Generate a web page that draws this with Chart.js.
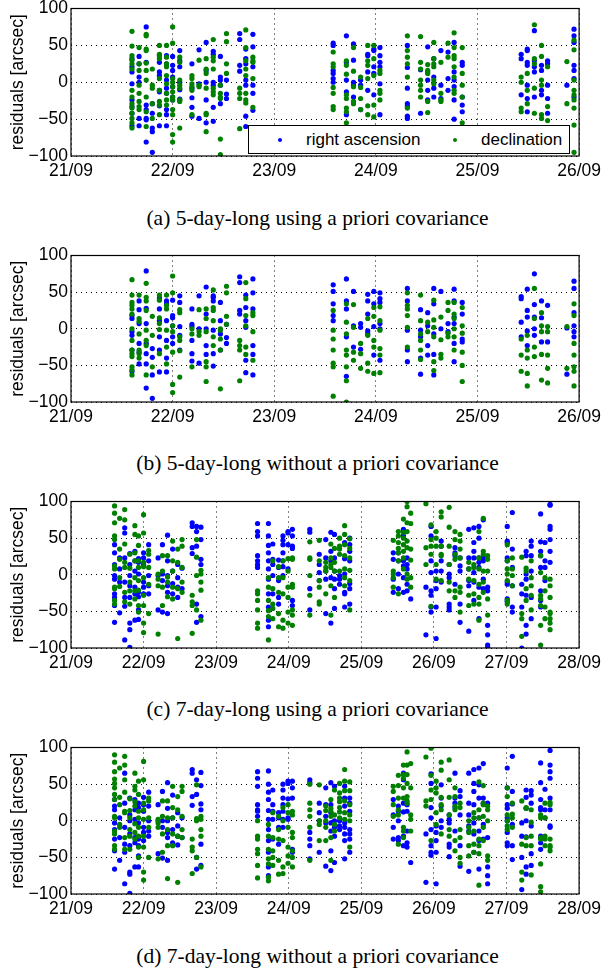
<!DOCTYPE html>
<html><head><meta charset="utf-8">
<script src="https://cdn.jsdelivr.net/npm/chart.js@4.4.0/dist/chart.umd.min.js"></script>
<style>
body{margin:0;background:#fff;width:606px;height:969px;overflow:hidden;position:relative}
.panel{position:absolute;left:0;width:606px}
.cap{position:absolute;left:0;width:635px;text-align:center;font:21.5px "Liberation Serif","Times New Roman",serif;line-height:24px;color:#000;white-space:nowrap}
.legend{position:absolute;left:248px;top:125px;width:322px;height:29px;box-sizing:border-box;border:1px solid #000;background:#fff;font:17px "Liberation Sans",Arial,sans-serif;color:#000}
.legend span{position:absolute;top:3px;line-height:22px}
.legend i{position:absolute;top:12px;width:4px;height:4px;border-radius:50%}
</style></head><body>
<div class="panel" style="top:-5px"><canvas id="c1" width="606" height="195"></canvas></div>
<div class="legend"><i style="left:29px;background:#0000ff"></i><span style="left:57px">right ascension</span><i style="left:204px;background:#008000"></i><span style="left:232px">declination</span></div>
<div class="cap" style="top:206px">(a) 5-day-long using a priori covariance</div>
<div class="panel" style="top:242px"><canvas id="c2" width="606" height="194"></canvas></div>
<div class="cap" style="top:451px">(b) 5-day-long without a priori covariance</div>
<div class="panel" style="top:488px"><canvas id="c3" width="606" height="194"></canvas></div>
<div class="cap" style="top:697px">(c) 7-day-long using a priori covariance</div>
<div class="panel" style="top:734px"><canvas id="c4" width="606" height="194"></canvas></div>
<div class="cap" style="top:944px">(d) 7-day-long without a priori covariance</div>
<script>
// tick labels
const days5 = ['21/09','22/09','23/09','24/09','25/09','26/09'];
const days7 = ['21/09','22/09','23/09','24/09','25/09','26/09','27/09','28/09'];

// observation times (days after 21/09 00:00), one per column of points
const times5 = [0.60,0.67,0.74,0.80,0.87,0.94,1.00,1.07,1.19,1.26,1.33,1.40,1.47,1.53,1.66,1.72,1.79,
  2.58,2.71,2.78,2.85,2.92,2.98,3.04,3.31,3.44,3.51,3.57,3.64,3.71,3.77,3.85,
  4.43,4.49,4.56,4.63,4.69,4.88,4.95];
const times7 = [0.60,0.67,0.74,0.81,0.88,0.93,1.00,1.07,1.20,1.26,1.33,1.40,1.47,1.53,1.67,1.73,1.79,
  2.57,2.72,2.78,2.86,2.92,2.99,3.05,3.29,3.42,3.51,3.58,3.63,3.70,3.77,3.84,
  4.44,4.51,4.58,4.63,4.68,4.89,4.96,5.03,5.10,5.21,5.29,5.36,5.48,5.55,5.62,5.68,5.74,
  6.01,6.08,6.21,6.27,6.34,6.47,6.53,6.60];

// residuals [arcsec] per column
const aRA = [[32,21,14,-2,-24,-33,-42,-59],[35,25,7,0,-49,-59],[75,27,-31,-37,-49,-51,-81],[-29,-42,-62,-67,-95],
  [27,14,9,-11,-13,-32,-59],[36,25,3,-8,-15,-37,-44,-59],[35,23,16,7,-6,-20,-24],[43,29,21,0,-10,-23],
  [25,-8,-21,-34,-46],[44,-2,-49],[54,16,0,-24,-55],[42,38,0,-4,-34,-53],[35,7,3,-4,-29],[3,-16,-22],
  [66,58,23,15],[45,32,25,3,-4,-46,-60],[65,48,21,-4,-15,-38],
  [53,50,16,12,5,0],[63,27,3,-13,-44],[52,30,0,-4,-20],[3,-4,-37],[38,36,14,-11],[45,43,21,12,-17],[47,36,27,21,-2,-44],
  [50,20,-8,-29,-33,-46,-49],[17,-42],[48,3,-11,-24],[32,7,-8,-20],[43,-4,-22],[41,5,-11],[54,14,3,-6,-24,-50],[27,23,-20,-31,-40],
  [38,32,-17],[45,43,27,23,-4,-22,-40],[70,29,21,14,-20],[23,16,-11,-17],[29,25,-4,-22,-42],[-4,-69],[72,63,54,23,16,5,-20]];
const aDec = [[69,49,36,30,25,18,-11,-20,-29,-35,-42,-49,-55,-62],[47,25,16,-4,-15,-26,-33,-37],[65,63,45,43,26,16,3,-20,-40,-60],
  [18,-4,-8,-29,-49],[50,38,36,32,5,-11,-26,-31,-44],[50,34,25,21,9,-2,-15,-24,-31],[75,53,5,0,-6,-13,-20,-24,-37,-44,-71,-81],
  [34,27,3,-4,-8,-24,-26,-62],[9,5,-2,-6,-11,-44],[30,-4,-6],[32,18,12,-8,-42,-44,-67],[58,34,29,18,-8,-13,-17],
  [-4,-15,-20,-22,-77,-98],[66,55,25,12],[-8,-15,-22,-63],[71,47,29,18,9,-15,-24,-28],[34,29,27,5,-34],
  [41,25,21,-7,-15,-33,-37],[29,23,11,-17,-22,-35,-40,-55],[47,15,-6,-26,-29],[7,-7,-22,-37],[50,29,23,5,-32,-44],[50,32,9,-31,-47],[16,12,-11,-15,-24],
  [63,43,34,25,7,-35],[62,27,18,3,-4,-11,-20],[24,16,14,12,-26,-41],[54,32,25,21,3,-2],[27,-15,-24,-26],[53,34],[67,47,36,32,21,7,-11,-15],[47,12,-4,-20,-55],
  [7,0,-35,-40],[12,-11,-29],[78,32,25,-8,-42],[50,35,3,-4,-44,-49],[21,-33,-52],[28,-29],[57,44,3,-11,-17,-24,-35,-58,-95]];

const bRA = [[18,14,-4,-9,-29,-58],[38,26,7,-20,-32,-48],[79,28,7,-20,-34,-48,-81],[-27,-39,-63,-95],[42,27,11,-11,-29,-59],
  [38,34,11,-16,-40,-59],[39,18,15,4,-11,-20],[45,36,3,-9,-29],[27,6,3,-16,-34,-44],[45,0,-47],[57,20,0,-23,-35],
  [45,43,38,-2,-34,-51],[36,11,-7,-29],[6,-12,-20],[71,63,25,20],[46,29,11,2,-43,-60],[68,49,27,-23,-35,-63],
  [60,51,34,18,11],[68,38,27,-11,-65],[51,4,-25],[7,2,-28],[47,38,20,-3,-7],[51,34,3,-36],[49,41,36,7,0,-43],
  [55,38,-2,-29,-45],[26,-2,-11,-40,-62],[22,4,-23,-36],[55,34,-7,-35,-63],[51,0],[7,-4],[54,38,16,7,-20,-45],[36,20,-14,-18],
  [44,41,9,-11],[54,25,16,-3,-23],[75,33,16,0,-9],[38,15,-18],[32,-18],[1,-62],[65,55,22,4,-4,-11]];
const bDec = [[67,46,36,32,27,20,0,-16,-29,-34,-38,-52,-56,-63],[46,14,10,-7,-29,-34,-40],[62,43,38,25,-2,-16,-23,-63],[17,-9,-52],
  [46,39,15,7,-1,-34],[46,32,27,-2,-25,-48],[72,49,4,-4,-32,-76,-87],[26,22,-11,-16,-30,-66],[0,-7,-52],[26,-4,-9],
  [27,14,-4,-45,-52,-72],[53,29,25,11,-11,-23],[0,-2,-14,-29,-82],[58,49,17,6],[-16,-23,-29,-71],[63,41,18,4,-25,-35],[22,18,-4,-43],
  [25,-2,-14,-29,-47,-52,-92],[34,9,-7,-29,-36,-52,-71,-100],[33,2,-32,-43],[-20,-34,-54],[14,-9,-47,-58],[29,17,-16,-25,-61],[30,11,-2,-27,-36,-60],
  [49,32,27,18,2,-25],[46,11,-7,-16,-29,-42],[9,-4],[39,12,2,-11,-45,-57],[16,-15,-35,-40],[36,25,-6,-11],[36,20,14,0,-11,-29],[29,4,-6,-32,-50,-72],
  [-14,-36,-58],[-9,-29,-40,-61,-78],[55,14,-25,-38],[22,4,-4,-35,-70],[3,-4,-36,-54,-74],[3,-54],[34,18,-20,-36,-52,-58,-78]];

const cRA = [[41,30,14,-1,-6,-26,-31,-42,-65],[23,8,-10,-52],[64,57,23,-10,-31,-43,-89],[29,14,-1,-15,-31,-66,-75,-99],
  [32,19,5,-17,-26,-62],[22,17,1,-24,-30,-48,-61],[30,23,14,-10,-17,-26],[41,19,-1,-15,-26],[23,-1,-48],[41,1,-8,-51],
  [54,19,-1,-15,-24,-53],[35,5,-12,-26],[14,-4,-17,-31],[9,-19],[71,66,37,29],[66,59,39,-40,-65],[65,48,21,14,-57],
  [70,59,53,26,19,14,10],[70,53,40,30,19,8,-6,-26,-44,-62,-71],[42,21,14,-1,-26],[20,10,-8,-31,-40],[53,47,41,30,19,11,-1],[59,57,41,8],[62,53,39,36,-35,-42],
  [62,58,-19,-48],[28,14,3,-8],[48,23,5,-6,-53],[58,32,19,-4,-66],[55,23,5,-6,-19,-46],[-1,-6,-13],[44,22,1,-24,-26,-44],[50,41,32,19,-12,-19,-40],
  [30,21,-6,-24],[30,19,1,-19],[62,53,19,12,-4,-24],[23,14,8,-13,-22],[-33],
  [-17,-82],[66,53,19,3,-22,-28,-44,-51],[5,-8,-19,-44,-87],[46,39,19,5,-10],[14,1,-4,-40,-44,-48],[37,30,26,-13],[23,12,5,-40,-65],
  [62,23,8,-8,-15,-77],[64,44,32,23,3,-10,-35],[66,50,23,17,10,-17,-60],[75,23,19,-6,-19],[-17,-22,-69,-82,-96,-99],
  [66,46,44,23,19,-10,-13,-33,-37],[85,35,10,-15,-44,-51],[-13,-26,-44,-100],[32,26,1,-6,-28,-69,-81],[46,39,26,5,-31,-60],
  [83,45,32,26,10,-22,-35,-44],[44,19,10,-8],[96,95,66,62,48,32,17]];
const cDec = [[94,84,71,53,48,12,8,-17,-19,-35,-40],[77,35,21,-4,-16],[89,75,42,17,10,-24,-37],[28,9,-10,-22,-40],
  [67,55,30,19,-4,-22,-33],[53,40,19,10,-8,-21,-42,-51],[82,57,17,11,-4,-28,-42,-66,-79],[33,28,10,-13,-53],[1,-6,-15,-81],
  [26,5,-17,-42],[26,-3,-10,-30],[46,19,5,-17,-33],[35,17,-19,-87],[48,39,10,-10,-24],[-28,-37,-42,-80],[48,24,-1,-48],[6,1,-10,-21,-62],
  [-22,-26,-35,-48,-66,-73],[-4,-17,-35,-49,-57,-89],[19,-19,-40,-46,-60],[11,-4,-24,-53,-71],[19,-4,-26,-62,-73],[22,5,-17,-31,-51,-66],[23,21,-13,-17,-48,-55,-69],
  [45,23,21,-1,-28,-55],[47,19,-8,-17,-37,-40],[17,10,5,-26],[42,23,14,10,-15,-55],[36,17,5,-31],[50,39,35,28,5],[67,55,41,26,8,-4,-15],[49,36,23,6,-8,-48],
  [47,5,1,-4,-17],[59,53,44,36,30,19,-26],[76,58,50,41,32,23,8],[100,93,71,59,46,37,1,-6],[84,70,35,20,-4,-17],
  [97,37,14],[68,48,39,28,-43],[59,50,39,14,-6],[86,79,39,28,26,-8],[92,65,39,14,-10,-22],[59,48,28,21,-22,-31],[55,46,35,23,-17,-24,-51],
  [17,8,-6,-28,-42],[14,10,-8,-26,-40],[59,23,8,-13,-31,-40,-62],[77,32,28,5,-10,-24],[26,21,5,-33,-55],
  [41,19,8,1,-8,-35,-40],[23,8,-1,-15],[24,-53,-60,-84],[9,5,-19,-35],[19,-4,-15,-28,-48],
  [26,3,-28,-33,-42,-69,-96],[-4,-22,-44,-60],[-6,-15,-31,-51,-53,-60,-66,-75]];

const dRA = [[29,20,15,-3,-12,-25,-41,-66],[4,-23,-54],[65,24,-9,-32,-43,-86],[31,8,0,-18,-34,-70,-73,-99],
  [29,15,2,-23,-30,-63],[24,18,-3,-25,-34,-48,-63],[32,22,13,-9,-16,-27],[39,20,0,-14,-21],[22,0,-45],[40,0,-9,-51],
  [52,17,0,-16,-23,-54],[35,4,-12,-30],[11,-7,-21,-33],[4,-23],[70,65,33,21],[56,36,-50,-66],[66,48,23,15,-32,-61],
  [67,58,47,22,15,13,6],[68,50,39,29,14,2,-12,-27,-43,-63,-75],[42,22,13,2,-25],[11,4,-9,-32],[50,42,31,22,13,2,-9],[54,51,30,4,2],[54,45,31,-39,-43],
  [56,52,-16,-25,-34,-52],[24,11,0,-43],[45,22,6,-3,-62],[52,22,11,-3,-14,-41,-68],[47,0,-9,-21,-57],[0,-7,-12],[47,31,20,-3,-9,-18,-27,-52],[31,24,13,-12,-18,-25,-43],
  [29,8,-9,-25],[20,13,0,-23,-27],[65,56,24,12,-21,-34],[22,13,-14,-30,-36],[-57],
  [-18,-84],[64,51,18,4,-12,-34,-43,-47],[-7,-16,-27,-43,-86],[49,31,20,0,-9],[8,2,-3,-32,-36,-49],[65,31,24,18,-14],[41,33,8,-34,-62],
  [65,24,8,-7,-14,-69],[70,51,40,22,-3,-18,-43],[72,49,31,4,-14,-27,-66],[78,31,24,-5,-25],[24,-23,-63,-75,-86],
  [72,45,22,17,4,0,-16,-30,-34],[88,40,23,-5,-34,-53],[-3,-21,-50,-94],[42,32,17,0,-22,-63,-73],[41,35,24,-7,-45,-61],
  [79,52,29,18,15,-21,-30,-39],[43,15,4],[96,76,67,58,31,15,-7,-9]];
const dDec = [[90,80,67,57,51,45,36,29,6,4,-14,-18,-34,-39],[72,32,22,-5,-9],[88,76,56,39,13,11,-23,-39],[30,14,4,-12,-21,-39],
  [65,47,42,26,20,-4,-16,-25],[54,36,13,4,-9,-21,-36,-50],[81,56,24,15,2,-21,-36,-70,-81],[31,27,4,-9,-50],[2,-3,-9,-52],
  [27,6,-18,-43],[27,4,-12,-34,-79],[47,18,4,-18,-34],[33,15,-21,-84],[47,40,6,-12,-23],[-25,-36,-41,-72],[49,3,0,-50],[6,2,-12,-21,-63],
  [0,-21,-25,-39,-45,-61,-78],[-5,-21,-39,-52,-59,-77,-82],[11,-23,-41,-50,-61],[6,-12,-25,-54,-73],[18,0,-27,-63,-72],[22,11,-9,-36,-48,-58],[13,8,-16,-23,-41,-50,-63],
  [50,24,15,6,-9,-54],[49,0,-5,-27],[20,14,0,-9,-27],[29,17,13,6,-23,-54],[42,8,-5,-14],[51,38,31,26,18,12,4],[70,54,41,27,11,2],[53,41,22,8,0,-36],
  [47,40,22,6],[62,48,31,15,8,-32],[76,63,58,45,31,-9,-14,-23],[94,76,63,51,33,27,24],[78,45,8,2,-14],
  [87,27,20],[99,62,42,29,-27],[54,45,38,11,-5],[80,69,32,22,15,-18],[83,56,32,8,-12,-21],[45,33,20,15,-27,-41],[24,18,-12,-23,-50,-58],
  [0,-9,-16,-34,-48],[11,4,-14,-32,-43],[53,15,4,-25,-34,-45,-88],[48,24,22,6,-9,-27],[20,15,0,-48,-54],
  [45,33,8,0,-7,-12],[24,9,4,-9],[27,-32,-70,-81],[18,17,-23,-34],[15,-2,-21,-34,-74],
  [8,4,-23,-25,-59,-90,-97],[24,4,-21,-25,-34],[25,22,-25,-34,-36,-41]];

Chart.defaults.font.family = '"Liberation Sans", Arial, Helvetica, sans-serif';
Chart.defaults.font.size = 17.5;
Chart.defaults.color = '#000';

function toPoints(times, cols) {
  return times.flatMap((t, i) => cols[i].map(v => ({x: t, y: v})));
}

// axes box round the plot area
const boxPlugin = {
  id: 'box',
  afterDraw(chart) {
    const {ctx, chartArea: a} = chart;
    ctx.save();
    ctx.strokeStyle = '#000';
    ctx.lineWidth = 1.2;
    ctx.strokeRect(a.left, a.top, a.right - a.left, a.bottom - a.top);
    ctx.restore();
  }
};

function makeChart(id, times, ra, dec, labels) {
  const ctx = document.getElementById(id).getContext('2d');
  return new Chart(ctx, {
    type: 'scatter',
    data: {
      datasets: [
        {label: 'right ascension', data: toPoints(times, ra), backgroundColor: '#0000ff', borderWidth: 0, pointRadius: 2.6, order: 1},
        {label: 'declination', data: toPoints(times, dec), backgroundColor: '#008000', borderWidth: 0, pointRadius: 2.6, order: 0}
      ]
    },
    options: {
      responsive: false, animation: false,
      layout: {padding: {top: 12, right: 24, left: 0, bottom: 0}},
      plugins: {legend: {display: false}, tooltip: {enabled: false}},
      scales: {
        x: {
          type: 'linear', min: 0, max: labels.length - 1,
          afterFit: s => { s.height = 34; },
          ticks: {stepSize: 1, autoSkip: false, maxRotation: 0, padding: 5, callback: v => labels[v]},
          grid: {color: '#000', lineWidth: 1, drawTicks: false},
          border: {display: false, dash: [1, 4]}
        },
        y: {
          min: -100, max: 100,
          afterFit: s => { s.width = 71; },
          ticks: {stepSize: 50, padding: 3, callback: v => String(v).replace('-', '\u2212')},
          grid: {color: '#000', lineWidth: 1, drawTicks: false},
          border: {display: false, dash: [1, 4]},
          title: {display: true, text: 'residuals [arcsec]', padding: {top: 8, bottom: 0}}
        }
      }
    },
    plugins: [boxPlugin]
  });
}

makeChart('c1', times5, aRA, aDec, days5);
makeChart('c2', times5, bRA, bDec, days5);
makeChart('c3', times7, cRA, cDec, days7);
makeChart('c4', times7, dRA, dDec, days7);
</script>
</body></html>
